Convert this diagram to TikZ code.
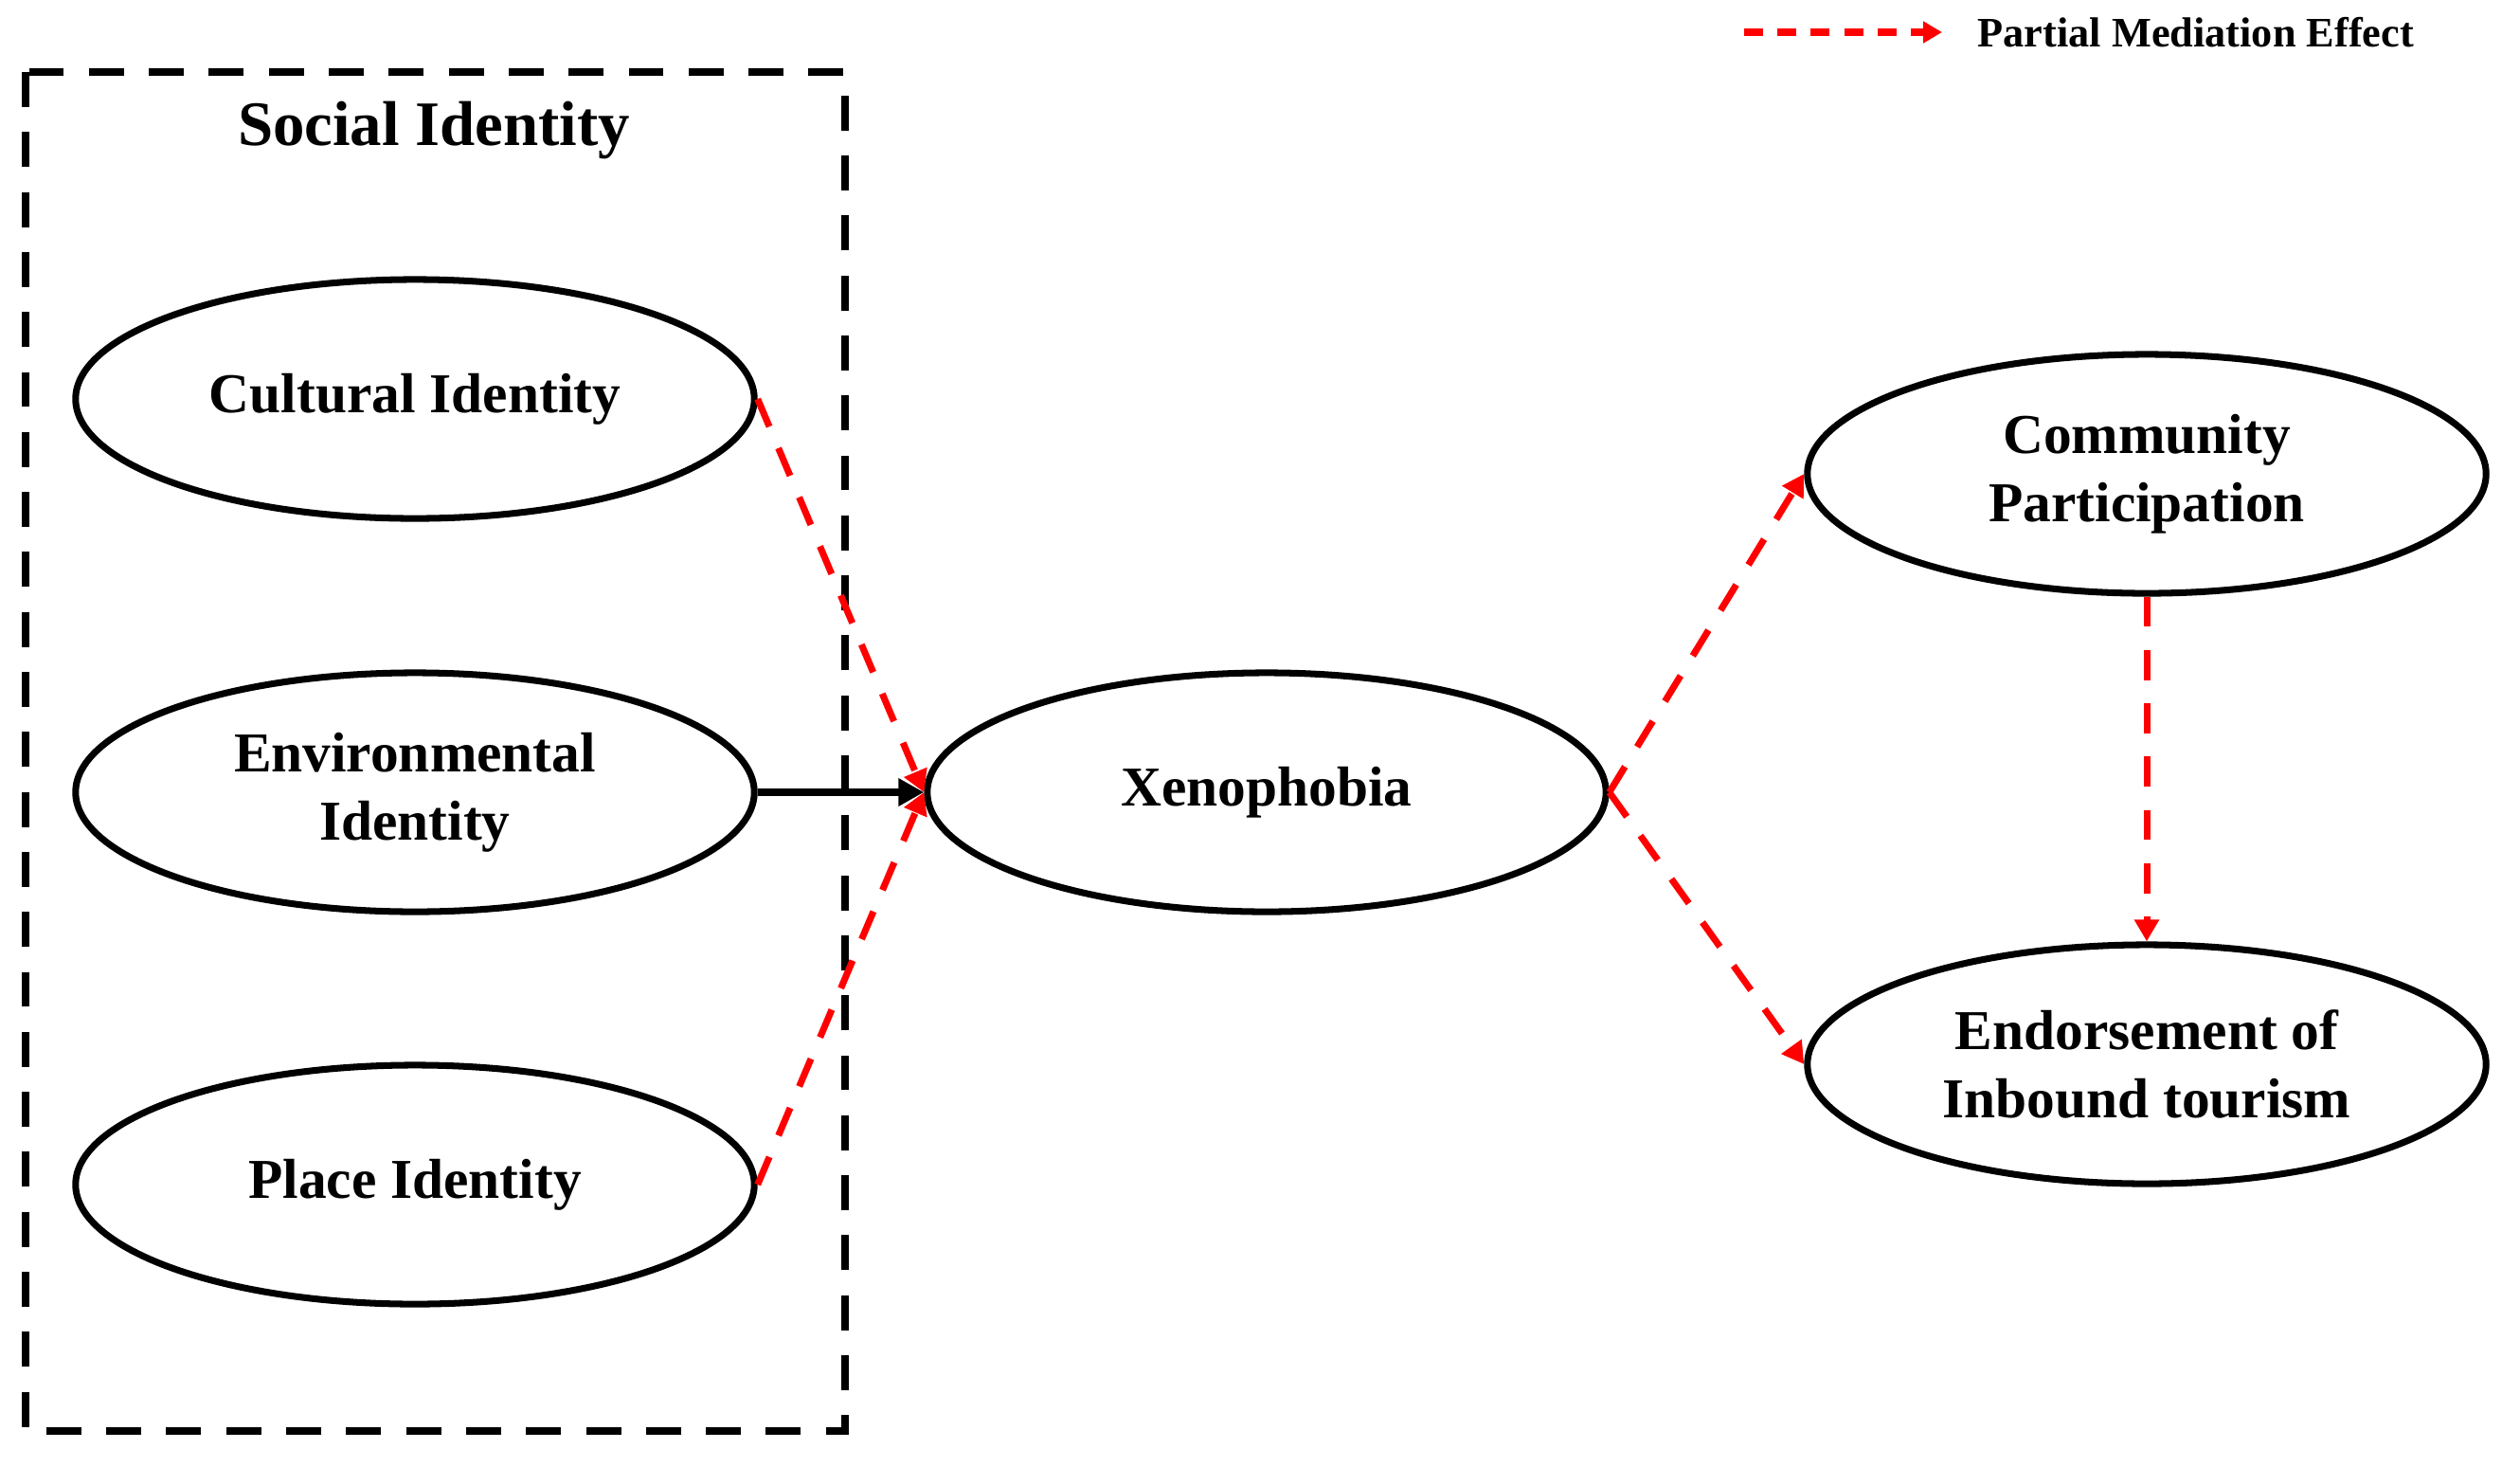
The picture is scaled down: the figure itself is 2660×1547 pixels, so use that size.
\documentclass[tikz,border=0pt]{standalone}
\usepackage{fontspec}
\setmainfont{Liberation Serif}
\usetikzlibrary{shapes.geometric,arrows.meta}
\begin{document}
\begin{tikzpicture}[x=0.01cm,y=-0.01cm,
  construct/.style={ellipse,draw=black,line width=2pt,minimum width=7.16cm,minimum height=2.52cm,inner sep=0pt,align=center,font=\bfseries\fontsize{16.9}{20.5}\selectfont},
  mediation/.style={draw=red,line width=2pt,dash pattern=on 9pt off 7pt,-{Triangle[length=0.23cm,width=0.25cm]}},
  direct/.style={draw=black,line width=2.4pt,-{Triangle[length=0.27cm,width=0.28cm]}},
  groupbox/.style={draw=black,line width=2.1pt,dash pattern=on 10.5pt off 7.5pt}]
\useasboundingbox (0,0) rectangle (2660,1547);
\fill[white] (0,0) rectangle (2660,1547);
% group box
\draw[groupbox] (27,76) rectangle (892,1510);
\node[font=\bfseries\fontsize{19}{22}\selectfont] (title) at (458,138) {Social Identity};
% constructs
\node[construct] (cult) at (438,421) {Cultural Identity};
\node[construct] (env) at (438,836) {Environmental\\Identity};
\node[construct] (place) at (438,1250) {Place Identity};
\node[construct] (xeno) at (1337,836) {Xenophobia};
\node[construct] (comm) at (2266,500) {Community\\Participation};
\node[construct] (endo) at (2266,1123) {Endorsement of\\Inbound tourism};
% connectors
\draw[mediation] (cult.east) -- (xeno.west);
\draw[mediation] (place.east) -- (xeno.west);
\draw[direct] (env.east) -- (xeno.west);
\draw[mediation] (xeno.east) -- (comm.west);
\draw[mediation] (xeno.east) -- (endo.west);
\draw[mediation] (comm.south) -- (endo.north);
% legend
\coordinate (legA) at (1841,34);
\coordinate (legB) at (2050,34);
\draw[draw=red,line width=2pt,dash pattern=on 5.7pt off 4.3pt,-{Triangle[length=0.2cm,width=0.22cm]}] (legA) -- (legB);
\node[anchor=west,font=\bfseries\fontsize{12.6}{15}\selectfont,inner sep=0pt] (legtext) at (2087,34) {Partial Mediation Effect};
\end{tikzpicture}
\end{document}
